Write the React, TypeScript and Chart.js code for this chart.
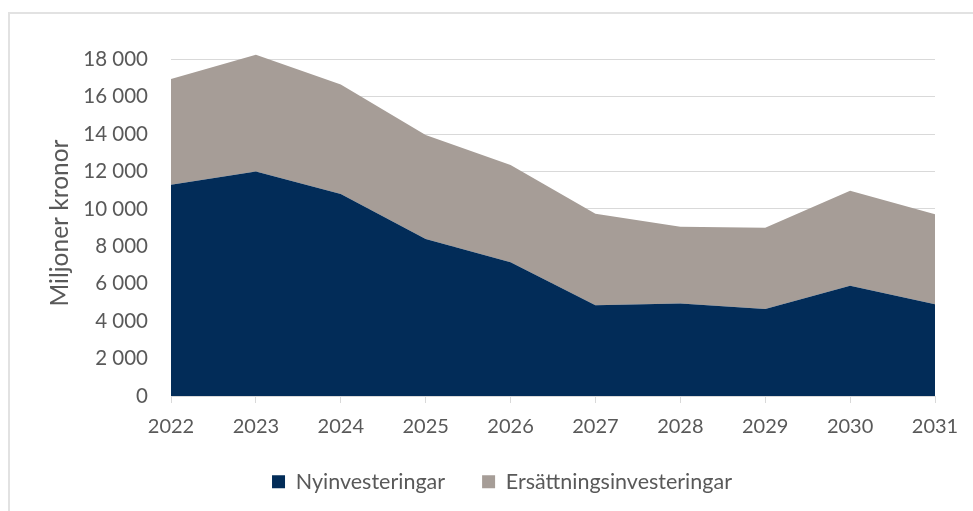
import React, { useEffect, useRef } from 'react';
import { Chart, registerables } from 'chart.js';

Chart.register(...registerables);

const categories = ['2022', '2023', '2024', '2025', '2026', '2027', '2028', '2029', '2030', '2031'];
const nyinvesteringar = [11300, 12000, 10800, 8400, 7150, 4850, 4950, 4650, 5900, 4900];
const ersattningsinvesteringar = [5650, 6250, 5850, 5550, 5200, 4900, 4100, 4350, 5080, 4820];
const seriesNames = ['Nyinvesteringar', 'Ersättningsinvesteringar'];
const yAxisTitle = 'Miljoner kronor';
const yTickValues = [0, 2000, 4000, 6000, 8000, 10000, 12000, 14000, 16000, 18000];
const yMin = 0;
const yMax = 18500;

const NAVY = '#022C58';
const TAUPE = '#A69D97';
const TEXT = '#595959';
const GRID = '#D9D9D9';
const FONT = 'Lato, "Liberation Sans", sans-serif';

const formatThousands = (v: number) => String(v).replace(/\B(?=(\d{3})+(?!\d))/g, ' ');

const legendShift = {
  id: 'legendShift',
  afterLayout(chart: any) {
    const l = chart.legend;
    if (l) {
      l.left += 34.5;
      l.right += 34.5;
    }
  },
};

export default function App() {
  const ref = useRef<HTMLCanvasElement | null>(null);

  useEffect(() => {
    if (!ref.current) return;
    const chart = new Chart(ref.current, {
      type: 'line',
      data: {
        labels: categories,
        datasets: [
          {
            label: seriesNames[0],
            data: nyinvesteringar,
            backgroundColor: NAVY,
            borderColor: NAVY,
            borderWidth: 0,
            pointRadius: 0,
            fill: 'origin',
            tension: 0,
          },
          {
            label: seriesNames[1],
            data: ersattningsinvesteringar,
            backgroundColor: TAUPE,
            borderColor: TAUPE,
            borderWidth: 0,
            pointRadius: 0,
            fill: '-1',
            tension: 0,
          },
        ],
      },
      plugins: [legendShift],
      options: {
        responsive: false,
        animation: false,
        devicePixelRatio: 1,
        layout: { padding: { left: 0, right: 38, top: 50, bottom: 8.5 } },
        plugins: {
          tooltip: { enabled: false },
          legend: {
            position: 'bottom',
            labels: {
              boxWidth: 13,
              boxHeight: 13,
              padding: 37,
              color: TEXT,
              font: { family: FONT, size: 21.5 },
            },
          },
        },
        scales: {
          x: {
            offset: false,
            grid: {
              drawOnChartArea: false,
              drawTicks: true,
              tickLength: 7,
              color: GRID,
              lineWidth: 1,
            },
            border: { display: true, color: GRID, width: 1 },
            ticks: {
              color: TEXT,
              padding: 12,
              maxRotation: 0,
              autoSkip: false,
              font: { family: FONT, size: 20 },
            },
            afterFit: (scale: any) => {
              scale.height = 38;
            },
          },
          y: {
            stacked: true,
            min: yMin,
            max: yMax,
            grid: { color: GRID, lineWidth: 1, drawTicks: false },
            border: { display: false },
            ticks: {
              color: TEXT,
              padding: 23,
              autoSkip: false,
              font: { family: FONT, size: 20.5 },
              callback: (v: any) => formatThousands(Number(v)),
            },
            afterBuildTicks: (axis: any) => {
              axis.ticks = yTickValues.map((v) => ({ value: v }));
            },
            title: {
              display: true,
              text: yAxisTitle,
              color: TEXT,
              font: { family: FONT, size: 24.5 },
              padding: { top: 45.3, bottom: 0 },
            },
            afterFit: (scale: any) => {
              scale.width = 171;
            },
          },
        },
      },
    });
    return () => chart.destroy();
  }, []);

  return (
    <div style={{ position: 'absolute', left: 0, top: 0, width: 973, height: 511, overflow: 'hidden', background: '#fff' }}>
      <div
        style={{
          position: 'absolute',
          left: 8,
          top: 12,
          width: 1200,
          height: 800,
          borderLeft: '2px solid #E2E2E2',
          borderTop: '2px solid #E2E2E2',
        }}
      />
      <canvas ref={ref} width={973} height={511} style={{ position: 'absolute', left: 0, top: 0, width: 973, height: 511 }} />
    </div>
  );
}
